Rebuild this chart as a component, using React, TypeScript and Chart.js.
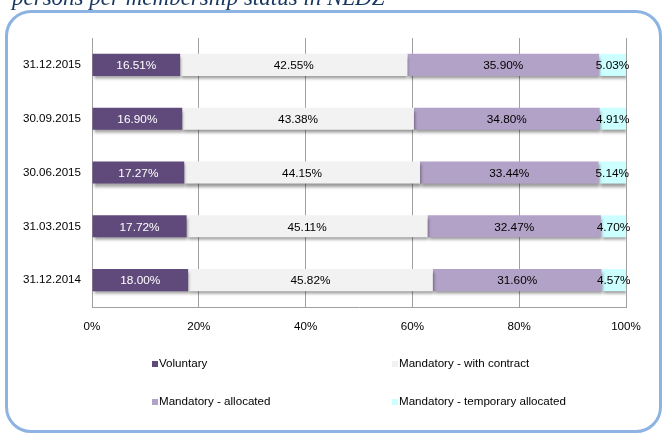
import React, { useEffect, useRef } from "react";
import { Chart, registerables } from "chart.js";

Chart.register(...registerables);

const categories = ["31.12.2015", "30.09.2015", "30.06.2015", "31.03.2015", "31.12.2014"];
const seriesNames = [
  "Voluntary",
  "Mandatory - with contract",
  "Mandatory - allocated",
  "Mandatory - temporary allocated",
];
const voluntary = [16.51, 16.9, 17.27, 17.72, 18.0];
const withContract = [42.55, 43.38, 44.15, 45.11, 45.82];
const allocated = [35.9, 34.8, 33.44, 32.47, 31.6];
const temporary = [5.03, 4.91, 5.14, 4.7, 4.57];
const xTicks = [0, 20, 40, 60, 80, 100];
const title = "persons per membership status in NLDZ";

const colors = ["#604a7b", "#f2f2f2", "#b3a2c7", "#ccffff"];
const labelColors = ["#ffffff", "#000000", "#000000", "#000000"];
const FONT = "Arial, 'Liberation Sans', sans-serif";

export default function App() {
  const ref = useRef<HTMLCanvasElement | null>(null);

  useEffect(() => {
    const canvas = ref.current;
    if (!canvas) return;

    const shadowPlugin = {
      id: "barShadow",
      beforeDatasetDraw(chart: any) {
        const ctx = chart.ctx;
        ctx.save();
        ctx.shadowColor = "rgba(0,0,0,0.4)";
        ctx.shadowBlur = 3;
        ctx.shadowOffsetX = 1;
        ctx.shadowOffsetY = 3;
      },
      afterDatasetDraw(chart: any) {
        chart.ctx.restore();
      },
    };

    const labelPlugin = {
      id: "dataLabels",
      afterDatasetsDraw(chart: any) {
        const ctx = chart.ctx;
        ctx.save();
        ctx.font = `11.8px ${FONT}`;
        ctx.textAlign = "center";
        ctx.textBaseline = "middle";
        chart.data.datasets.forEach((ds: any, di: number) => {
          const meta = chart.getDatasetMeta(di);
          meta.data.forEach((el: any, i: number) => {
            const p = el.getProps(["x", "y", "base"], true);
            ctx.fillStyle = labelColors[di];
            const cx = (p.x + p.base) / 2;
            ctx.fillText(ds.data[i].toFixed(2) + "%", cx, p.y + 1);
          });
        });
        ctx.restore();
      },
    };

    const legendPlugin = {
      id: "customLegend",
      afterDraw(chart: any) {
        const ctx = chart.ctx;
        ctx.save();
        ctx.font = `11.6px ${FONT}`;
        ctx.textBaseline = "middle";
        ctx.textAlign = "left";
        const cols = [152, 392];
        const rows = [364, 402];
        chart.data.datasets.forEach((ds: any, di: number) => {
          const x = cols[di % 2];
          const y = rows[Math.floor(di / 2)];
          ctx.fillStyle = ds.backgroundColor;
          ctx.fillRect(x, y - 3, 6, 6);
          ctx.fillStyle = "#000";
          ctx.fillText(ds.label, x + 7, y);
        });
        ctx.restore();
      },
    };

    const titlePlugin = {
      id: "topTitle",
      afterDraw(chart: any) {
        const ctx = chart.ctx;
        ctx.save();
        ctx.font = "italic 23px 'Liberation Serif', serif";
        ctx.fillStyle = "#17375e";
        ctx.textBaseline = "alphabetic";
        ctx.textAlign = "left";
        ctx.fillText(title, 12, 5);
        ctx.restore();
      },
    };

    const series = [voluntary, withContract, allocated, temporary];
    const chart = new Chart(canvas, {
      type: "bar",
      data: {
        labels: categories,
        datasets: series.map((d, i) => ({
          label: seriesNames[i],
          data: d,
          backgroundColor: colors[i],
          borderWidth: 0,
          categoryPercentage: 1,
          barPercentage: 0.41,
        })),
      },
      options: {
        indexAxis: "y",
        responsive: false,
        animation: false,
        layout: { padding: { top: 38, right: 38, left: 0, bottom: 0 } },
        plugins: {
          legend: { display: false },
          tooltip: { enabled: false },
          title: { display: false },
        },
        scales: {
          x: {
            stacked: true,
            min: 0,
            max: 100,
            afterBuildTicks(scale: any) {
              scale.ticks = xTicks.map((v) => ({ value: v }));
            },
            afterFit(scale: any) {
              scale.height = 127;
            },
            ticks: {
              callback: (v: any) => v + "%",
              color: "#000",
              font: { family: FONT, size: 11.6 },
              padding: 13,
              maxRotation: 0,
            },
            grid: {
              color: "#a0a0a0",
              lineWidth: 1,
              drawTicks: false,
            },
            border: { color: "#a0a0a0", width: 1 },
          },
          y: {
            stacked: true,
            afterFit(scale: any) {
              scale.width = 92;
            },
            ticks: {
              color: "#000",
              font: { family: FONT, size: 11.6 },
              padding: 11,
            },
            grid: { display: false, drawTicks: false },
            border: { color: "#a0a0a0", width: 1 },
          },
        },
      },
      plugins: [shadowPlugin, labelPlugin, legendPlugin, titlePlugin],
    } as any);

    return () => chart.destroy();
  }, []);

  return (
    <div style={{ position: "fixed", left: 0, top: 0, width: 664, height: 434, background: "#fff" }}>
      <div
        style={{
          position: "absolute",
          left: 5,
          top: 10,
          width: 651,
          height: 417,
          border: "3px solid #8db3e2",
          borderRadius: 26,
        }}
      />
      <canvas
        ref={ref}
        width={664}
        height={434}
        style={{ position: "absolute", left: 0, top: 0, display: "block" }}
      />
    </div>
  );
}
